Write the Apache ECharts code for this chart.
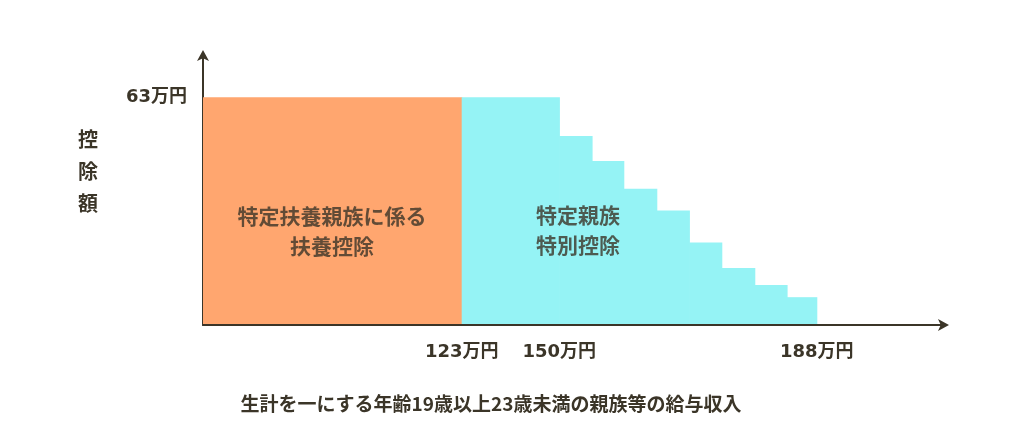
<!DOCTYPE html>
<html>
<head>
<meta charset="utf-8">
<script src="https://cdn.jsdelivr.net/npm/echarts@6/dist/echarts.min.js"></script>
<style>
html,body{margin:0;padding:0;background:#fff;}
#c{width:1024px;height:432px;}
</style>
</head>
<body>
<div id="c"></div>
<script>
// Schematic x positions (the drawing is not to scale) and bar heights in 万円 as drawn
const blockStarts = [0, 258.7, 356.3, 389, 420.7, 453.7, 486.3, 518.7, 551.7, 584];
const blockEnds   = [258.7, 356.3, 389, 420.7, 453.7, 486.3, 518.7, 551.7, 584, 613.7];
const blockValues = [63, 63, 52.3, 45.4, 37.7, 31.7, 22.8, 15.8, 11.1, 7.7];
const blockGroup  = [0, 1, 1, 1, 1, 1, 1, 1, 1, 1];
const groupColors = ['#FFA66F', '#95F3F5'];
const xTickPositions = [258.7, 356.3, 613.7];
const xTickLabels = ['123万円', '150万円', '188万円'];
const yTickValue = 63;
const yTickLabel = '63万円';
const areaLabels = ['特定扶養親族に係る\n扶養控除', '特定親族\n特別控除'];
const areaLabelPos = [[129, 26], [375, 26.3]];
const xName = '生計を一にする年齢19歳以上23歳未満の親族等の給与収入';
const yName = '控\n除\n額';

const textColor = '#3b3528';
const font = '"Noto Sans CJK JP", "Noto Sans", sans-serif';
const numFont = '"DejaVu Sans", "Noto Sans CJK JP", sans-serif';

const data = blockStarts.map((s, i) => [s, blockEnds[i], blockValues[i], blockGroup[i]]);

const chart = echarts.init(document.getElementById('c'));
chart.setOption({
  animation: false,
  backgroundColor: '#ffffff',
  grid: { left: 203, right: 79, top: 54, bottom: 107, containLabel: false },
  xAxis: {
    type: 'value', min: 0, max: 742,
    axisLine: { show: true, lineStyle: { color: textColor, width: 2 }, symbol: ['none', 'arrow'], symbolSize: [9, 11], symbolOffset: [0, 4] },
    axisTick: { show: false },
    splitLine: { show: false },
    axisLabel: {
      customValues: xTickPositions,
      formatter: v => { const i = xTickPositions.findIndex(p => Math.abs(p - v) < 0.01); return i >= 0 ? xTickLabels[i] : ''; },
      color: textColor, fontSize: 18, fontWeight: 'bold', fontFamily: numFont, margin: 18
    }
  },
  yAxis: {
    type: 'value', min: 0, max: 75,
    axisLine: { show: true, lineStyle: { color: textColor, width: 2 }, symbol: ['none', 'arrow'], symbolSize: [9, 11], symbolOffset: [0, 4] },
    axisTick: { show: false },
    splitLine: { show: false },
    axisLabel: {
      customValues: [yTickValue],
      formatter: v => (Math.abs(v - yTickValue) < 0.01 ? yTickLabel : ''),
      color: textColor, fontSize: 18, fontWeight: 'bold', fontFamily: numFont, margin: 16,
      padding: [4, 0, 0, 0]
    }
  },
  graphic: [
    { type: 'text', left: 78, top: 123, style: { text: yName, fill: textColor, font: 'bold 20px ' + font, lineHeight: 32, textAlign: 'left' } },
    { type: 'text', x: 491, y: 404, style: { text: xName, fill: textColor, font: 'bold 19px ' + font, textAlign: 'center', textVerticalAlign: 'middle' } }
  ],
  series: [
    {
      type: 'custom',
      data: data,
      encode: { x: [0, 1], y: 2 },
      renderItem: (params, api) => {
        const p0 = api.coord([api.value(0), api.value(2)]);
        const p1 = api.coord([api.value(1), 0]);
        const g = api.value(3);
        return {
          type: 'rect',
          shape: { x: p0[0], y: p0[1], width: p1[0] - p0[0] + 0.6, height: p1[1] - p0[1] - 1 },
          style: { fill: groupColors[g] }
        };
      },
      z: 1
    },
    {
      type: 'scatter',
      symbolSize: 0,
      data: areaLabelPos,
      label: {
        show: true, position: 'inside',
        formatter: p => areaLabels[p.dataIndex],
        color: textColor, fontSize: 21, fontWeight: 'bold', fontFamily: font, lineHeight: 30, align: 'center'
      },
      z: 3
    }
  ]
});
</script>
</body>
</html>
